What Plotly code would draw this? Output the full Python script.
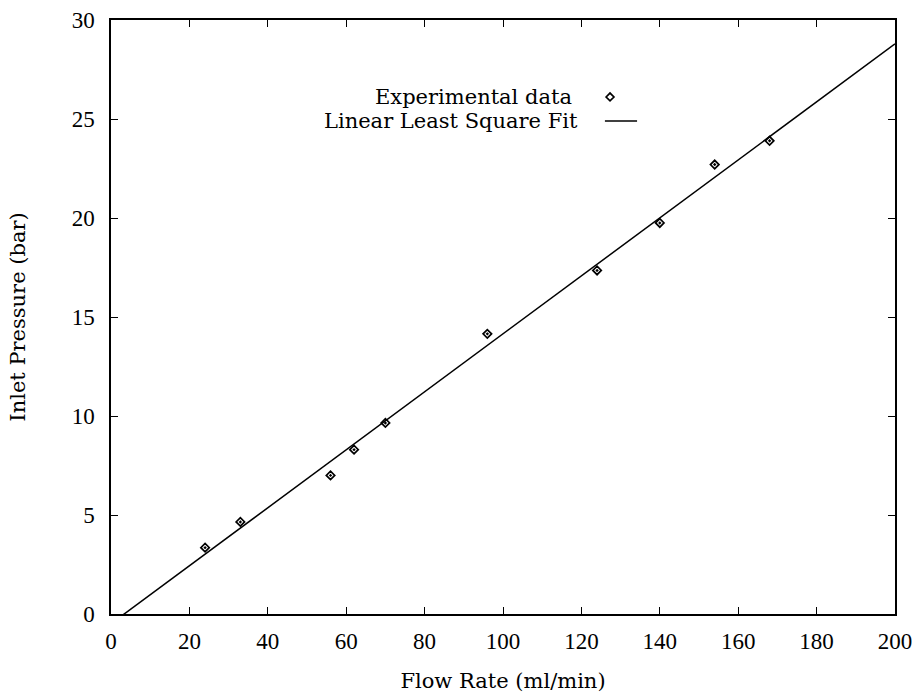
import numpy as np
import plotly.graph_objects as go

# Measured inlet pressure against flow rate
flow_rate = [24, 33, 56, 62, 70, 96, 124, 140, 154, 168]          # ml/min
inlet_pressure = [3.35, 4.65, 7.0, 8.3, 9.65, 14.15, 17.35, 19.75, 22.7, 23.9]  # bar

x_ticks = [0, 20, 40, 60, 80, 100, 120, 140, 160, 180, 200]
y_ticks = [0, 5, 10, 15, 20, 25, 30]

# Linear least-squares fit through the measurements
slope, intercept = np.polyfit(flow_rate, inlet_pressure, 1)
fit_x = np.array([x_ticks[0], x_ticks[-1]], dtype=float)
fit_y = slope * fit_x + intercept

TEXT_FONT = dict(family="DejaVu Serif", size=21, color="black")
TICK_FONT = dict(family="Liberation Serif", size=23, color="black")

fig = go.Figure()

fig.add_trace(go.Scatter(
    x=fit_x, y=fit_y, mode="lines",
    line=dict(color="black", width=1.5),
    name="Linear Least Square Fit", showlegend=False,
))
fig.add_trace(go.Scatter(
    x=flow_rate, y=inlet_pressure, mode="markers",
    marker=dict(symbol="diamond-open-dot", size=6.5, color="black",
                line=dict(color="black", width=1.7)),
    name="Experimental data", showlegend=False, cliponaxis=False,
))

axis_common = dict(
    showgrid=False, zeroline=False, automargin=False,
    showline=True, linecolor="black", linewidth=1.5, mirror="ticks",
    ticks="inside", ticklen=7, tickwidth=1.3, tickcolor="black",
    tickfont=TICK_FONT,
)

fig.update_xaxes(
    range=[0, 200], tickvals=x_ticks, ticklabelstandoff=6,
    title=dict(text="Flow Rate (ml/min)", font=TEXT_FONT, standoff=26),
    **axis_common,
)
fig.update_yaxes(
    range=[0, 30], tickvals=y_ticks, ticklabelstandoff=10,
    title=dict(text="Inlet Pressure (bar)", font=TEXT_FONT, standoff=40),
    **axis_common,
)

# Key in the gnuplot style: right-aligned labels followed by the sample
fig.add_annotation(x=0.591, y=0.870, xref="paper", yref="paper",
                   xanchor="right", yanchor="middle", showarrow=False,
                   text="Experimental data", font=TEXT_FONT)
fig.add_annotation(x=0.598, y=0.830, xref="paper", yref="paper",
                   xanchor="right", yanchor="middle", showarrow=False,
                   text="Linear Least Square Fit", font=TEXT_FONT)

cx, cy, dx, dy = 0.6365, 0.8704, 0.0050, 0.0066
fig.add_shape(type="path", xref="paper", yref="paper",
              path=f"M {cx-dx} {cy} L {cx} {cy+dy} L {cx+dx} {cy} L {cx} {cy-dy} Z",
              line=dict(color="black", width=1.7))
fig.add_shape(type="line", xref="paper", yref="paper",
              x0=0.630, x1=0.671, y0=0.830, y1=0.830,
              line=dict(color="black", width=1.5))

fig.update_layout(
    width=914, height=693,
    margin=dict(l=111, r=19, t=20, b=79, autoexpand=False),
    paper_bgcolor="white", plot_bgcolor="white",
    showlegend=False,
)

fig.write_html("out.html")
